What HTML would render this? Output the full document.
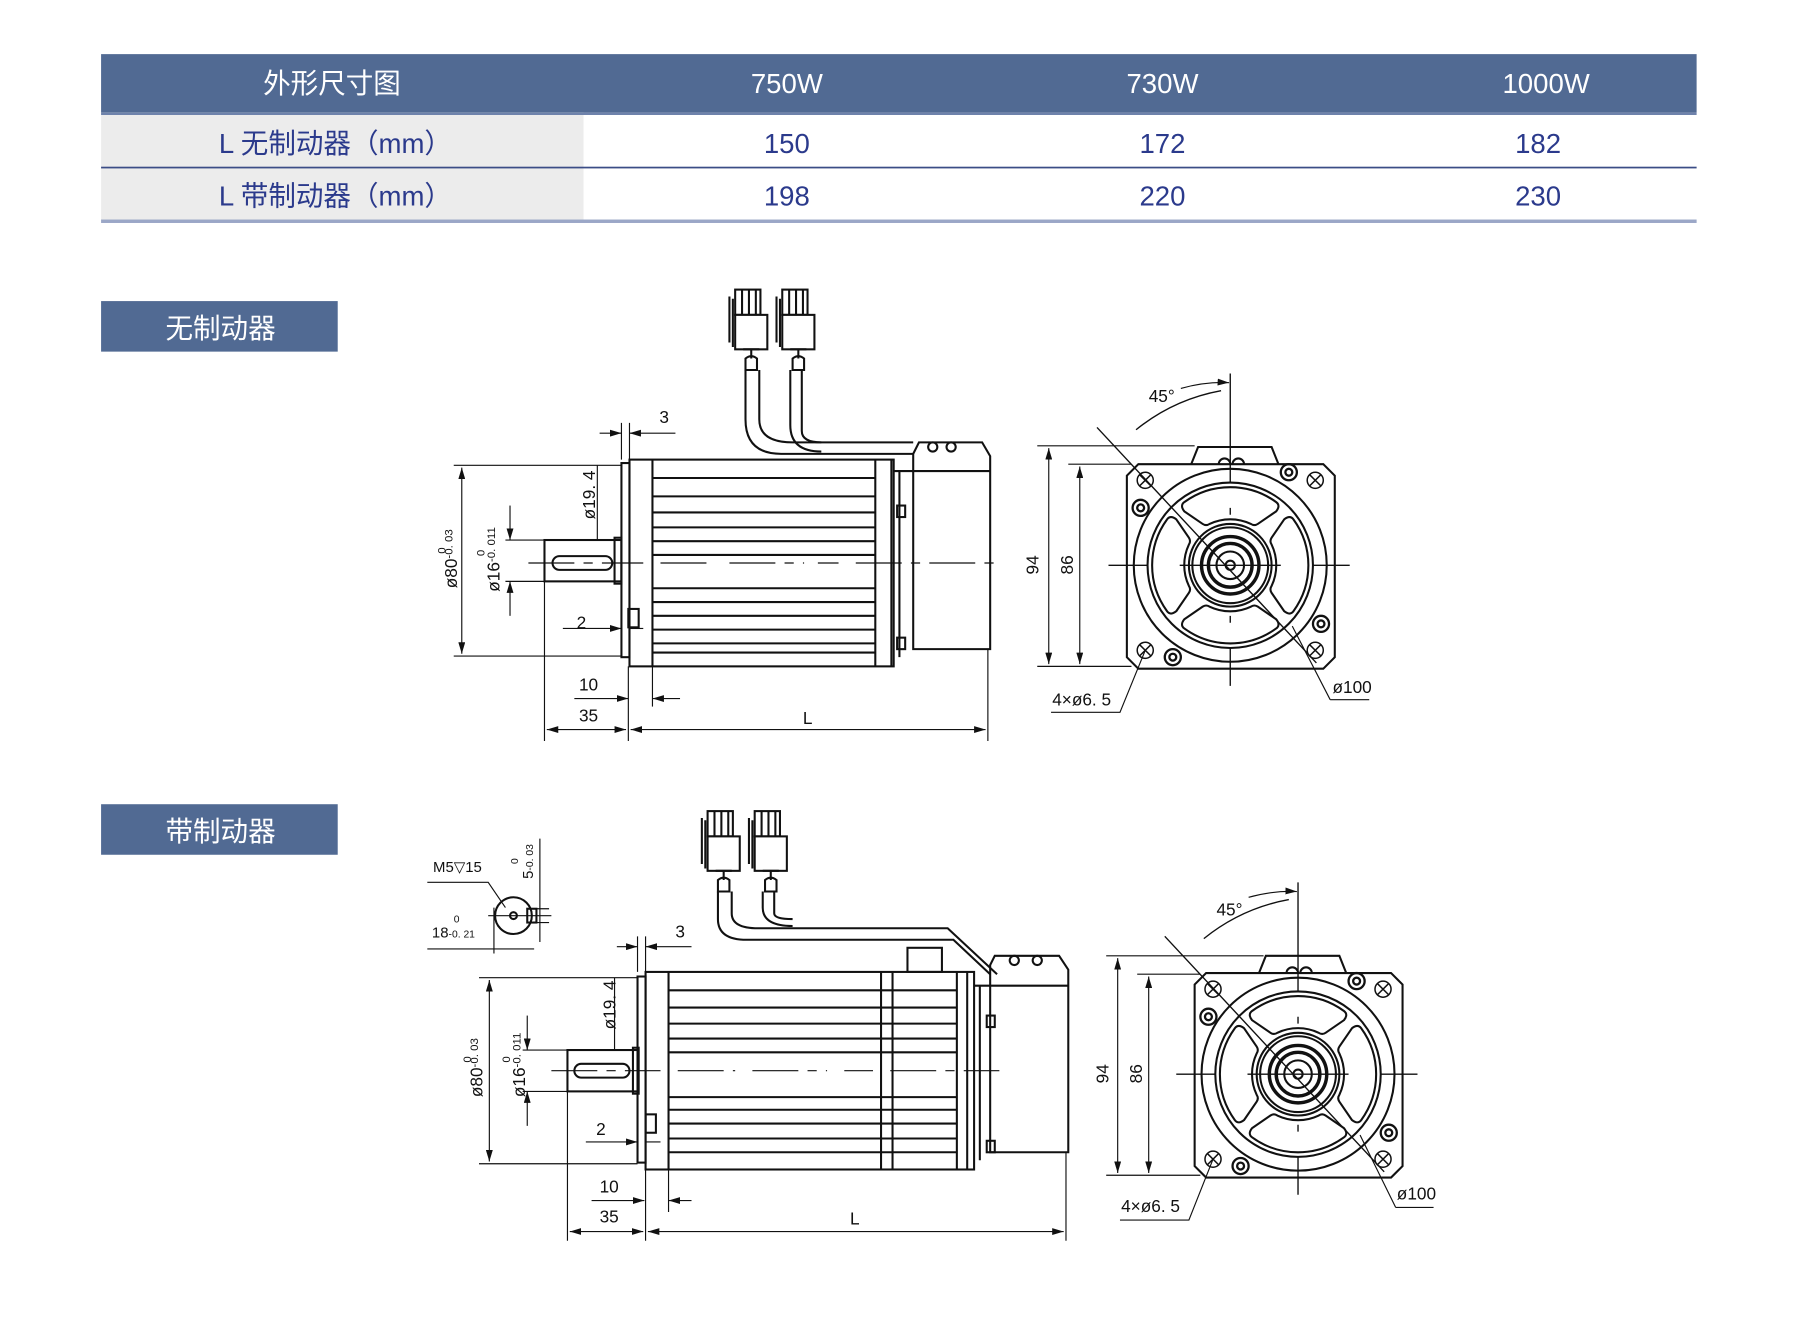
<!DOCTYPE html>
<html><head><meta charset="utf-8"><style>
html,body{margin:0;padding:0;background:#fff;}
svg{display:block;}
.c{font-family:"Liberation Sans","Noto Sans CJK SC",sans-serif;}
.d{font-family:"Liberation Sans",sans-serif;font-size:15px;fill:#111;}
</style></head><body>
<svg width="1800" height="1327" viewBox="0 0 1567 1155" xmlns="http://www.w3.org/2000/svg">
<defs>
<marker id="a" viewBox="0 0 10 6" refX="10" refY="3" markerWidth="10" markerHeight="6" orient="auto-start-reverse" markerUnits="userSpaceOnUse"><path d="M0,0L10,3L0,6z" fill="#111"/></marker>
<path id="win" d="M-40,-55 A68,68 0 0 1 40,-55 Q44,-52 40,-47 L24,-36 Q21,-34 18,-36 A42,42 0 0 0 -18,-36 Q-21,-34 -24,-36 L-40,-47 Q-44,-52 -40,-55 Z"/>
<g id="fv" fill="none" stroke="#111" stroke-width="1.8">
  <path d="M-34,-88 L-28,-103 L36,-103 L42,-88"/>
  <path d="M-10,-88 a5,5 0 0 1 10,0 M2,-88 a5,5 0 0 1 10,0"/>
  <path d="M-80,-88 L81,-88 L91,-78 L91,80 L81,90 L-80,90 L-90,80 L-90,-78 Z"/>
  <circle r="84"/><circle r="72"/>
  <use href="#win"/><use href="#win" transform="rotate(90)"/><use href="#win" transform="rotate(180)"/><use href="#win" transform="rotate(270)"/>
  <circle r="36"/><circle r="33"/><circle r="25" stroke-width="3"/><circle r="19" stroke-width="3"/><circle r="12"/><circle r="4"/>
  <g stroke-width="1.3">
  <circle cx="-74" cy="-74" r="7"/><path d="M-79,-79l10,10M-69,-79l-10,10"/>
  <circle cx="74" cy="-74" r="7"/><path d="M69,-79l10,10M79,-79l-10,10"/>
  <circle cx="-74" cy="74" r="7"/><path d="M-79,69l10,10M-69,69l-10,10"/>
  <circle cx="74" cy="74" r="7"/><path d="M69,69l10,10M79,69l-10,10"/>
  </g>
  <g stroke-width="2"><circle cx="-78" cy="-50" r="7"/><circle cx="-78" cy="-50" r="3"/>
  <circle cx="51" cy="-81" r="7"/><circle cx="51" cy="-81" r="3"/>
  <circle cx="79" cy="51" r="7"/><circle cx="79" cy="51" r="3"/>
  <circle cx="-50" cy="80" r="7"/><circle cx="-50" cy="80" r="3"/></g>
  <g stroke-width="1.2"><path d="M-106,0H-72M-44,0H44M72,0H104M0,-167V-72M0,-50V-44M0,44V50M0,72V105"/>
  <path d="M-116,-120 L75,85 M-8,-152 A165,165 0 0 0 -82,-118"/></g>
</g>
<g id="conn" fill="none" stroke="#111" stroke-width="1.8">
  <rect x="6" y="0" width="22" height="22"/><path d="M12,0v22M18,0v22M24,0v22"/>
  <path d="M4,8v42M1,6v40"/>
  <rect x="6" y="22" width="28" height="30" fill="#fff"/>
  <path d="M13,52h14M20,52v8M15,60 q5,-4 10,0 v10 h-10z"/>
</g>
</defs>
<rect x="88" y="47" width="1389" height="51" fill="#516a93"/>
<rect x="88" y="98" width="420" height="94" fill="#ececec"/>
<rect x="88" y="98" width="1389" height="2" fill="#6e82ab"/>
<rect x="88" y="145" width="1389" height="1.5" fill="#3b4d86"/>
<rect x="88" y="191" width="1389" height="3" fill="#9ba7c7"/>
<g class="c" font-size="24" text-anchor="middle">
<text x="289" y="81" fill="#fff">外形尺寸图</text>
<text x="685" y="81" fill="#fff">750W</text><text x="1012" y="81" fill="#fff">730W</text><text x="1346" y="81" fill="#fff">1000W</text>
<g fill="#2b3a8c"><text x="292" y="133">L 无制动器（mm）</text><text x="292" y="179">L 带制动器（mm）</text>
<text x="685" y="133">150</text><text x="1012" y="133">172</text><text x="1339" y="133">182</text>
<text x="685" y="179">198</text><text x="1012" y="179">220</text><text x="1339" y="179">230</text></g>
</g>
<rect x="88" y="262" width="206" height="44" fill="#516a93"/>
<rect x="88" y="700" width="206" height="44" fill="#516a93"/>
<g class="c" font-size="24" fill="#fff" text-anchor="middle"><text x="192" y="294">无制动器</text><text x="192" y="732">带制动器</text></g>

<g fill="none" stroke="#111" stroke-width="1.8">
<use href="#conn" x="634" y="252"/><use href="#conn" x="675" y="252"/>
<path d="M649,322 V365 Q649,395 680,395 H795 M661,322 V365 Q661,385 690,385 H795"/>
<path d="M688,322 V370 Q688,393 715,393 M698,322 V375 Q698,385 715,385"/>
<rect x="548" y="400" width="230" height="180"/>
<rect x="541" y="403" width="7" height="169"/>
<path d="M568,400V580M762,400V580M776,400V580"/>
<path d="M568,416H762M568,432H762M568,446H762M568,459H762M568,471H762M568,483H762M568,512H762M568,524H762M568,536H762M568,548H762M568,560H762M568,568H762"/>
<path d="M778,410H795V395L800,385H855L862,397V410M795,410V565H862V410H778M783,410V572"/>
<circle cx="812" cy="389" r="4"/><circle cx="828" cy="389" r="4"/>
<rect x="781" y="440" width="7" height="10"/><rect x="781" y="555" width="7" height="10"/>
<rect x="547" y="530" width="9" height="16"/>
<rect x="474" y="470" width="67" height="36"/>
<rect x="481" y="484" width="52" height="12" rx="6"/>
<rect x="535" y="468" width="6" height="40"/>
</g>
<g fill="none" stroke="#111" stroke-width="1">
<path d="M460,490H560M575,490H620M635,490H700M712,490H730M745,490H870" stroke-dasharray="40,8,8,8"/>
<path d="M395,405H541M395,571H541"/><path d="M402,407V569" marker-start="url(#a)" marker-end="url(#a)"/>
<path d="M440,470H474M440,506H474"/><path d="M444,440V470" marker-end="url(#a)"/><path d="M444,536V506" marker-end="url(#a)"/>
<path d="M520,405V470M510,470H535M510,506H535"/>
<path d="M541,368V400M548,368V400"/><path d="M522,377H541" marker-end="url(#a)"/><path d="M588,377H548" marker-end="url(#a)"/>
<path d="M490,547H541" marker-end="url(#a)"/><path d="M560,547H548"/>
<path d="M568,580V615"/><path d="M500,608H547" marker-end="url(#a)"/><path d="M592,608H568" marker-end="url(#a)"/>
<path d="M474,506V645M547,580V645M860,565V645"/>
<path d="M476,635H545" marker-start="url(#a)" marker-end="url(#a)"/><path d="M549,635H858" marker-start="url(#a)" marker-end="url(#a)"/>
</g>
<g class="d">
<text x="574" y="368">3</text><text x="502" y="547">2</text><text x="504" y="601">10</text><text x="504" y="628">35</text><text x="699" y="630">L</text>
<text transform="translate(518,452) rotate(-90)">ø19. 4</text>
<text transform="translate(398,512) rotate(-90)">ø80<tspan font-size="10" dy="-4">-0. 03</tspan></text>
<text transform="translate(388,482) rotate(-90)" font-size="10">0</text>
<text transform="translate(435,515) rotate(-90)">ø16<tspan font-size="10" dy="-4">-0. 011</tspan></text>
<text transform="translate(422,484) rotate(-90)" font-size="10">0</text>
</g>
<use href="#fv" x="1071" y="492"/>
<g fill="none" stroke="#111" stroke-width="1">
<path d="M903,388H1040M930,404H985M903,580H985"/>
<path d="M913,390V578" marker-start="url(#a)" marker-end="url(#a)"/><path d="M940,406V578" marker-start="url(#a)" marker-end="url(#a)"/>
<path d="M915,620H975L997,566M1158,609H1192M1158,609L1125,545"/>
<path d="M1028,338 Q1050,332 1070,333" marker-end="url(#a)"/>
</g>
<g class="d"><text transform="translate(904,500) rotate(-90)">94</text><text transform="translate(934,500) rotate(-90)">86</text>
<text x="1000" y="350">45°</text><text x="916" y="614">4×ø6. 5</text><text x="1160" y="603">ø100</text></g>

<g fill="none" stroke="#111" stroke-width="1.8">
<use href="#conn" x="610" y="706"/><use href="#conn" x="651" y="706"/>
<path d="M625,776 V800 Q625,818 650,818 H830 L862,848 M637,776 V795 Q637,808 660,808 H825 L868,848"/>
<path d="M664,776 V790 Q664,806 690,806 M674,776 V795 Q674,800 690,800"/>
<rect x="562" y="846" width="286" height="172"/>
<rect x="555" y="850" width="7" height="162"/>
<path d="M582,846V1018M767,846V1018M777,846V1018M833,846V1018M842,846V1018"/>
<path d="M582,862H833M582,877H833M582,891H833M582,904H833M582,916H833M582,955H833M582,966H833M582,978H833M582,991H833M582,1003H833"/>
<rect x="790" y="825" width="30" height="21"/>
<path d="M848,858H862V840L866,832H922L930,844V858M862,858V1003H930V858H848M853,858V1010"/>
<circle cx="883" cy="836" r="4"/><circle cx="903" cy="836" r="4"/>
<rect x="859" y="884" width="7" height="10"/><rect x="859" y="993" width="7" height="10"/>
<rect x="562" y="970" width="9" height="16"/>
<rect x="494" y="914" width="61" height="36"/>
<rect x="500" y="926" width="48" height="12" rx="6"/>
<rect x="551" y="912" width="5" height="40"/>
<circle cx="447" cy="797" r="16"/><rect x="459" y="791" width="8" height="12"/><circle cx="447" cy="797" r="3"/>
</g>
<g fill="none" stroke="#111" stroke-width="1">
<path d="M480,932H575M590,932H640M655,932H720M735,932H760M775,932H870" stroke-dasharray="40,8,8,8"/>
<path d="M417,851H555M417,1013H555"/><path d="M426,853V1011" marker-start="url(#a)" marker-end="url(#a)"/>
<path d="M455,914H494M455,950H494"/><path d="M459,884V914" marker-end="url(#a)"/><path d="M459,980V950" marker-end="url(#a)"/>
<path d="M535,851V914M527,914H552M527,950H552"/>
<path d="M555,815V846M562,815V846"/><path d="M537,824H555" marker-end="url(#a)"/><path d="M602,824H562" marker-end="url(#a)"/>
<path d="M510,994H555" marker-end="url(#a)"/><path d="M575,994H562"/>
<path d="M582,1018V1055"/><path d="M515,1045H561" marker-end="url(#a)"/><path d="M602,1045H582" marker-end="url(#a)"/>
<path d="M494,950V1080M562,1018V1080M928,1003V1080"/>
<path d="M496,1072H560" marker-start="url(#a)" marker-end="url(#a)"/><path d="M564,1072H926" marker-start="url(#a)" marker-end="url(#a)"/>
<path d="M372,768H425L440,790M425,797H480M470,730V820M463,791H478M463,803H478M430,790V830M372,826H465M430,826H462"/>
</g>
<g class="d">
<text x="588" y="816">3</text><text x="519" y="988">2</text><text x="522" y="1038">10</text><text x="522" y="1064">35</text><text x="740" y="1066">L</text>
<text transform="translate(536,896) rotate(-90)">ø19. 4</text>
<text transform="translate(420,955) rotate(-90)">ø80<tspan font-size="10" dy="-4">-0. 03</tspan></text>
<text transform="translate(410,925) rotate(-90)" font-size="10">0</text>
<text transform="translate(457,955) rotate(-90)">ø16<tspan font-size="10" dy="-4">-0. 011</tspan></text>
<text transform="translate(444,925) rotate(-90)" font-size="10">0</text>
<text x="377" y="759" font-size="13">M5▽15</text>
<text x="376" y="816" font-size="13">18<tspan font-size="9">-0. 21</tspan></text><text x="395" y="803" font-size="9">0</text>
<text transform="translate(464,765) rotate(-90)" font-size="13">5<tspan font-size="9">-0. 03</tspan></text>
<text transform="translate(451,752) rotate(-90)" font-size="9">0</text>
</g>
<use href="#fv" x="1130" y="935"/>
<g fill="none" stroke="#111" stroke-width="1">
<path d="M963,832H1100M990,848H1045M963,1023H1045"/>
<path d="M973,834V1021" marker-start="url(#a)" marker-end="url(#a)"/><path d="M1000,850V1021" marker-start="url(#a)" marker-end="url(#a)"/>
<path d="M975,1062H1035L1056,1009M1215,1051H1248M1215,1051L1184,988"/>
<path d="M1087,781 Q1109,775 1129,776" marker-end="url(#a)"/>
</g>
<g class="d"><text transform="translate(965,943) rotate(-90)">94</text><text transform="translate(994,943) rotate(-90)">86</text>
<text x="1059" y="797">45°</text><text x="976" y="1055">4×ø6. 5</text><text x="1216" y="1044">ø100</text></g>
</svg>
</body></html>
